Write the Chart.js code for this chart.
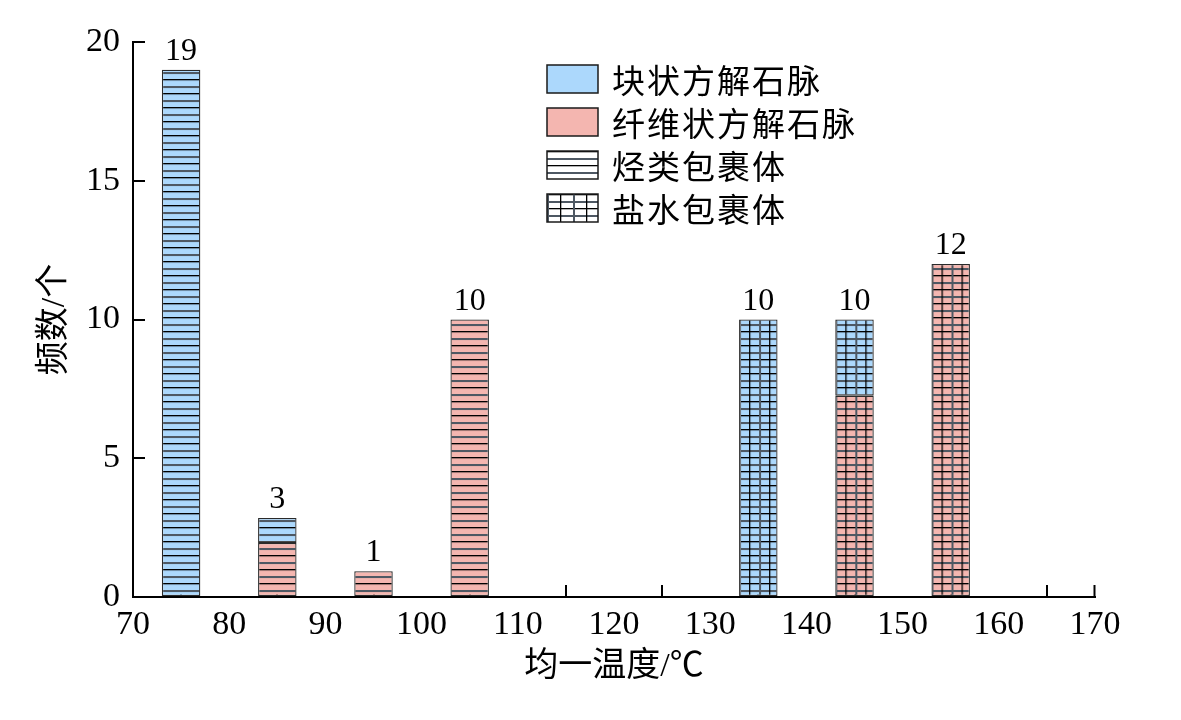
<!DOCTYPE html>
<html>
<head>
<meta charset="utf-8">
<script src="https://cdn.jsdelivr.net/npm/chart.js@4.4.1/dist/chart.umd.min.js"></script>
<style>
  html, body { margin: 0; padding: 0; background: #fff; }
  #wrap { width: 1181px; height: 720px; position: relative; }
</style>
</head>
<body>
<div id="wrap"><canvas id="c" width="1181" height="720"></canvas></div>
<script>
// ---- data ----
const categories = [75, 85, 95, 105, 135, 145, 155];          // 均一温度 bin centres (°C)
const fiberHydrocarbon = [null, 1.95, 0.93, 10, null, null, null]; // 纤维状方解石脉 · 烃类包裹体
const blockHydrocarbon = [19, 0.9, null, null, null, null, null];  // 块状方解石脉 · 烃类包裹体
const fiberBrine       = [null, null, null, null, null, 7.25, 12]; // 纤维状方解石脉 · 盐水包裹体
const blockBrine       = [null, null, null, null, 10, 2.75, null]; // 块状方解石脉 · 盐水包裹体
const totalLabels      = ['19', '3', '1', '10', '10', '10', '12'];
const legendLabels     = ['块状方解石脉', '纤维状方解石脉', '烃类包裹体', '盐水包裹体'];
const xTitle = '均一温度/℃';
const yTitle = '频数/个';

const BLUE = '#acd8fc';
const PINK = '#f4b6b0';
const SERIF = "'Liberation Serif', 'Noto Sans CJK SC', serif";
const CJK = "'Noto Sans CJK SC', 'Liberation Serif', sans-serif";

function toPoints(arr) {
  const out = [];
  arr.forEach((v, i) => { if (v !== null) out.push({ x: categories[i], y: v }); });
  return out;
}

function makePattern(color, grid, colW) {
  const cw = colW || 10;
  const w = grid ? cw * 2 : 8, h = 14;
  const cv = document.createElement('canvas');
  cv.width = w; cv.height = h;
  const g = cv.getContext('2d');
  g.fillStyle = color; g.fillRect(0, 0, w, h);
  g.fillStyle = '#000';
  g.fillRect(0, 0, w, 1.3);
  g.fillStyle = '#4e5863';
  g.fillRect(0, 7, w, 2);
  if (grid) {
    g.fillStyle = '#000';
    g.fillRect(cw, 0, 1.3, h);
    g.fillStyle = '#4e5863';
    g.fillRect(0, 0, 2, h);
  }
  return g.createPattern(cv, 'repeat');
}

function patternFor(color, grid) {
  return function (ctx) {
    const chart = ctx.chart;
    const pat = makePattern(color, grid);
    const xs = chart.scales && chart.scales.x;
    const ys = chart.scales && chart.scales.y;
    if (xs && ys && ctx.raw && typeof ctx.raw.x === 'number') {
      const left = xs.getPixelForValue(ctx.raw.x - 2);
      const bottom = ys.getPixelForValue(0);
      try { pat.setTransform(new DOMMatrix().translate(left, bottom)); } catch (e) {}
    }
    return pat;
  };
}

function ds(label, arr, color, grid) {
  return {
    label: label,
    data: toPoints(arr),
    backgroundColor: patternFor(color, grid),
    borderColor: '#2a2a2a',
    borderWidth: 1.3,
    borderSkipped: false,
    barPercentage: 0.4,
    categoryPercentage: 1.0
  };
}

const datasets = [
  ds('纤维状方解石脉-烃类包裹体', fiberHydrocarbon, PINK, false),
  ds('块状方解石脉-烃类包裹体', blockHydrocarbon, BLUE, false),
  ds('纤维状方解石脉-盐水包裹体', fiberBrine, PINK, true),
  ds('块状方解石脉-盐水包裹体', blockBrine, BLUE, true)
];

const totalsPlugin = {
  id: 'totals',
  afterDatasetsDraw(chart) {
    const { ctx, scales: { x, y } } = chart;
    ctx.save();
    ctx.font = '32px ' + SERIF;
    ctx.fillStyle = '#000';
    ctx.textAlign = 'center';
    ctx.textBaseline = 'alphabetic';
    categories.forEach((c, i) => {
      let sum = 0;
      [fiberHydrocarbon, blockHydrocarbon, fiberBrine, blockBrine].forEach(a => { if (a[i] !== null) sum += a[i]; });
      ctx.fillText(totalLabels[i], x.getPixelForValue(c), y.getPixelForValue(sum) - 10);
    });
    ctx.restore();
  }
};

const endTickPlugin = {
  id: 'endTick',
  afterDraw(chart) {
    const { ctx, scales: { x, y } } = chart;
    ctx.save();
    ctx.strokeStyle = '#000';
    ctx.lineWidth = 2;
    ctx.beginPath();
    const px = Math.round(x.getPixelForValue(x.max));
    const py = y.getPixelForValue(0);
    ctx.moveTo(px - 0.5, py + 1);
    ctx.lineTo(px - 0.5, py - 12);
    ctx.stroke();
    ctx.restore();
  }
};

const legendPlugin = {
  id: 'customLegend',
  afterDraw(chart) {
    const { ctx } = chart;
    const fills = [BLUE, PINK, makePattern('#ffffff', false), makePattern('#ffffff', true, 13)];
    ctx.save();
    legendLabels.forEach((t, i) => {
      const bx = 547, by = 65 + i * 43, bw = 51, bh = 28;
      if (typeof fills[i] !== 'string') {
        try { fills[i].setTransform(new DOMMatrix().translate(bx, by + bh)); } catch (e) {}
      }
      ctx.fillStyle = fills[i];
      ctx.fillRect(bx, by, bw, bh);
      ctx.strokeStyle = '#1a1a1a';
      ctx.lineWidth = 1.5;
      ctx.strokeRect(bx, by, bw, bh);
      ctx.fillStyle = '#000';
      ctx.font = '33px ' + CJK;
      try { ctx.letterSpacing = '2px'; } catch (e) {}
      ctx.textAlign = 'left';
      ctx.textBaseline = 'middle';
      ctx.fillText(t, 612, by + bh / 2 + 1);
      try { ctx.letterSpacing = '0px'; } catch (e) {}
    });
    ctx.restore();
  }
};

new Chart(document.getElementById('c'), {
  type: 'bar',
  data: { datasets: datasets },
  plugins: [totalsPlugin, endTickPlugin, legendPlugin],
  options: {
    responsive: false,
    devicePixelRatio: 1,
    animation: false,
    layout: { padding: { left: 0, right: 86, top: 42, bottom: 0 } },
    plugins: { legend: { display: false }, tooltip: { enabled: false } },
    scales: {
      x: {
        type: 'linear',
        min: 70, max: 170,
        stacked: true,
        offset: false,
        afterFit(s) { s.height = 123; },
        ticks: { stepSize: 10, color: '#000', font: { family: SERIF, size: 34 }, padding: 20, maxRotation: 0, autoSkip: false },
        grid: { drawOnChartArea: false, drawTicks: true, tickLength: -12, color: '#000', lineWidth: 2 },
        border: { display: true, color: '#000', width: 2 },
        title: { display: true, text: xTitle, color: '#000', font: { family: SERIF, size: 34 }, padding: { top: 0, bottom: 33 } }
      },
      y: {
        min: 0, max: 20,
        stacked: true,
        afterFit(s) { s.width = 133; },
        ticks: { stepSize: 5, color: '#000', font: { family: SERIF, size: 34, lineHeight: 1 }, padding: 25 },
        grid: { drawOnChartArea: false, drawTicks: true, tickLength: -12, color: '#000', lineWidth: 2 },
        border: { display: true, color: '#000', width: 2 },
        title: { display: true, text: yTitle, color: '#000', font: { family: SERIF, size: 34 }, padding: { top: 35, bottom: 0 } }
      }
    }
  }
});
</script>
</body>
</html>
